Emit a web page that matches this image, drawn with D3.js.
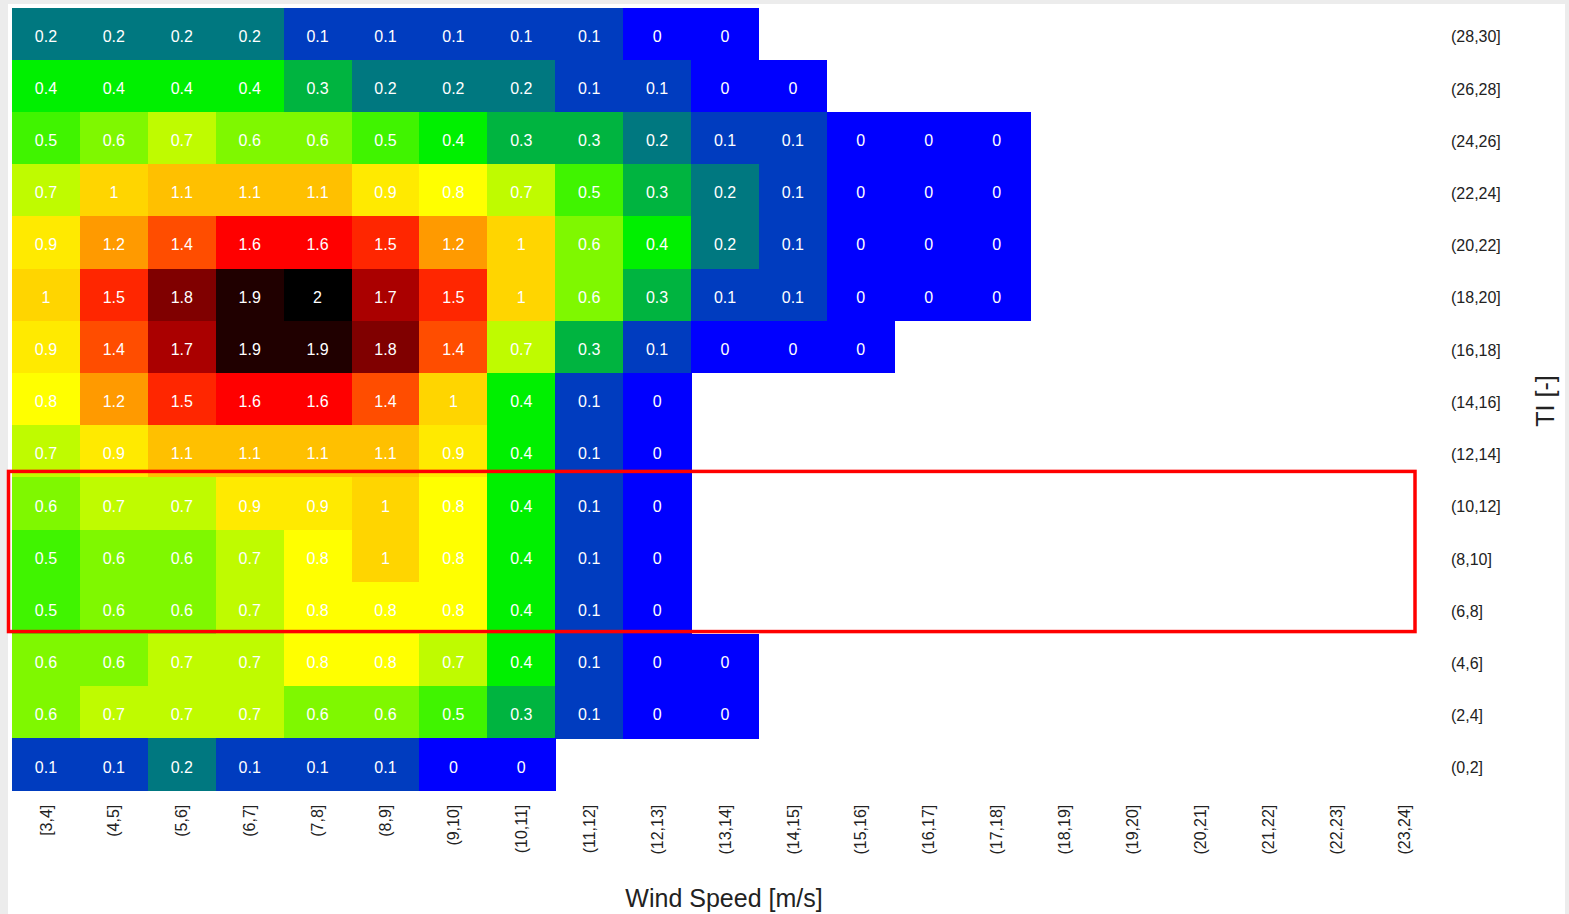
<!DOCTYPE html>
<html>
<head>
<meta charset="utf-8">
<script src="https://cdn.jsdelivr.net/npm/d3@7"></script>
<style>
  html, body { margin: 0; padding: 0; background: #ececec; }
  #chart { position: absolute; left: 8px; top: 4px; width: 1557px; height: 912px; background: #fff; }
  svg { position: absolute; left: -8px; top: -4px; }
  text { font-family: "Liberation Sans", Arial, sans-serif; }
</style>
</head>
<body>
<div id="chart"></div>
<script>
// wind speed bins (columns)
const windBins = ["[3,4]", "(4,5]", "(5,6]", "(6,7]", "(7,8]", "(8,9]", "(9,10]", "(10,11]", "(11,12]",
  "(12,13]", "(13,14]", "(14,15]", "(15,16]", "(16,17]", "(17,18]", "(18,19]", "(19,20]", "(20,21]",
  "(21,22]", "(22,23]", "(23,24]"];

// TI bins (rows), top to bottom
const tiBins = ["(28,30]", "(26,28]", "(24,26]", "(22,24]", "(20,22]", "(18,20]", "(16,18]", "(14,16]",
  "(12,14]", "(10,12]", "(8,10]", "(6,8]", "(4,6]", "(2,4]", "(0,2]"];

// frequency [%] per TI row, starting at [3,4]
const ti28_30 = [0.2, 0.2, 0.2, 0.2, 0.1, 0.1, 0.1, 0.1, 0.1, 0, 0];
const ti26_28 = [0.4, 0.4, 0.4, 0.4, 0.3, 0.2, 0.2, 0.2, 0.1, 0.1, 0, 0];
const ti24_26 = [0.5, 0.6, 0.7, 0.6, 0.6, 0.5, 0.4, 0.3, 0.3, 0.2, 0.1, 0.1, 0, 0, 0];
const ti22_24 = [0.7, 1, 1.1, 1.1, 1.1, 0.9, 0.8, 0.7, 0.5, 0.3, 0.2, 0.1, 0, 0, 0];
const ti20_22 = [0.9, 1.2, 1.4, 1.6, 1.6, 1.5, 1.2, 1, 0.6, 0.4, 0.2, 0.1, 0, 0, 0];
const ti18_20 = [1, 1.5, 1.8, 1.9, 2, 1.7, 1.5, 1, 0.6, 0.3, 0.1, 0.1, 0, 0, 0];
const ti16_18 = [0.9, 1.4, 1.7, 1.9, 1.9, 1.8, 1.4, 0.7, 0.3, 0.1, 0, 0, 0];
const ti14_16 = [0.8, 1.2, 1.5, 1.6, 1.6, 1.4, 1, 0.4, 0.1, 0];
const ti12_14 = [0.7, 0.9, 1.1, 1.1, 1.1, 1.1, 0.9, 0.4, 0.1, 0];
const ti10_12 = [0.6, 0.7, 0.7, 0.9, 0.9, 1, 0.8, 0.4, 0.1, 0];
const ti8_10 = [0.5, 0.6, 0.6, 0.7, 0.8, 1, 0.8, 0.4, 0.1, 0];
const ti6_8 = [0.5, 0.6, 0.6, 0.7, 0.8, 0.8, 0.8, 0.4, 0.1, 0];
const ti4_6 = [0.6, 0.6, 0.7, 0.7, 0.8, 0.8, 0.7, 0.4, 0.1, 0, 0];
const ti2_4 = [0.6, 0.7, 0.7, 0.7, 0.6, 0.6, 0.5, 0.3, 0.1, 0, 0];
const ti0_2 = [0.1, 0.1, 0.2, 0.1, 0.1, 0.1, 0, 0];

const rows = [ti28_30, ti26_28, ti24_26, ti22_24, ti20_22, ti18_20, ti16_18, ti14_16,
  ti12_14, ti10_12, ti8_10, ti6_8, ti4_6, ti2_4, ti0_2];

// highlighted TI rows
const highlightBins = ["(10,12]", "(6,8]"];

const cells = [];
rows.forEach((vals, r) => {
  vals.forEach((v, c) => cells.push({ ti: tiBins[r], ws: windBins[c], value: v }));
});

const W = 1569, H = 914;
const svg = d3.select("#chart").append("svg")
  .attr("width", W)
  .attr("height", H);

const plotLeft = 12, plotRight = 1438, plotTop = 7.5, plotBottom = 790.7;

const x = d3.scaleBand().domain(windBins).range([plotLeft, plotRight]).padding(0);
const y = d3.scaleBand().domain(tiBins).range([plotTop, plotBottom]).padding(0);

const color = d3.scaleLinear()
  .domain([0, 0.4, 0.8, 1.1, 1.6, 1.7, 1.8, 1.9, 2.0])
  .range(["#0000ff", "#00f000", "#ffff00", "#ffc000", "#ff0000", "#aa0000", "#800000", "#200000", "#000000"])
  .interpolate(d3.interpolateRgb)
  .clamp(true);

svg.append("g")
  .attr("shape-rendering", "crispEdges")
  .selectAll("rect")
  .data(cells)
  .join("rect")
  .attr("x", d => x(d.ws))
  .attr("y", d => y(d.ti))
  .attr("width", x.bandwidth() + 0.5)
  .attr("height", y.bandwidth() + 0.5)
  .attr("fill", d => color(d.value));

svg.append("g")
  .selectAll("text")
  .data(cells)
  .join("text")
  .attr("x", d => x(d.ws) + x.bandwidth() / 2)
  .attr("y", d => y(d.ti) + y.bandwidth() / 2)
  .attr("dy", "0.5em")
  .attr("text-anchor", "middle")
  .attr("fill", "#fff")
  .style("font-size", "16px")
  .text(d => d.value);

// y axis on the right
const yAxis = svg.append("g")
  .attr("transform", `translate(${plotRight},0)`)
  .call(d3.axisRight(y).tickSize(0).tickPadding(13));
yAxis.select(".domain").remove();
yAxis.selectAll("text")
  .attr("dy", "0.55em")
  .attr("fill", "#222")
  .style("font-size", "16px");

// x axis, labels rotated
const xAxis = svg.append("g")
  .attr("transform", `translate(0,${plotBottom})`)
  .call(d3.axisBottom(x).tickSize(0));
xAxis.select(".domain").remove();
xAxis.selectAll("text")
  .attr("x", 0)
  .attr("y", 0)
  .attr("dy", "0.35em")
  .attr("transform", "translate(0,14) rotate(-90)")
  .attr("text-anchor", "end")
  .attr("fill", "#222")
  .style("font-size", "16px");

svg.append("text")
  .attr("x", 724)
  .attr("y", 907)
  .attr("text-anchor", "middle")
  .attr("fill", "#222")
  .style("font-size", "25px")
  .text("Wind Speed [m/s]");

svg.append("text")
  .attr("transform", "translate(1554,401) rotate(-90)")
  .attr("text-anchor", "middle")
  .attr("fill", "#222")
  .style("font-size", "25px")
  .text("TI [-]");

// highlight box
const hTop = y(highlightBins[0]) - 6;
const hBottom = y(highlightBins[1]) + y.bandwidth() - 2.5;
svg.append("rect")
  .attr("x", plotLeft - 3.5)
  .attr("y", hTop)
  .attr("width", 1415 - (plotLeft - 3.5))
  .attr("height", hBottom - hTop)
  .attr("fill", "none")
  .attr("stroke", "#ff0000")
  .attr("stroke-width", 3.5);
</script>
</body>
</html>
